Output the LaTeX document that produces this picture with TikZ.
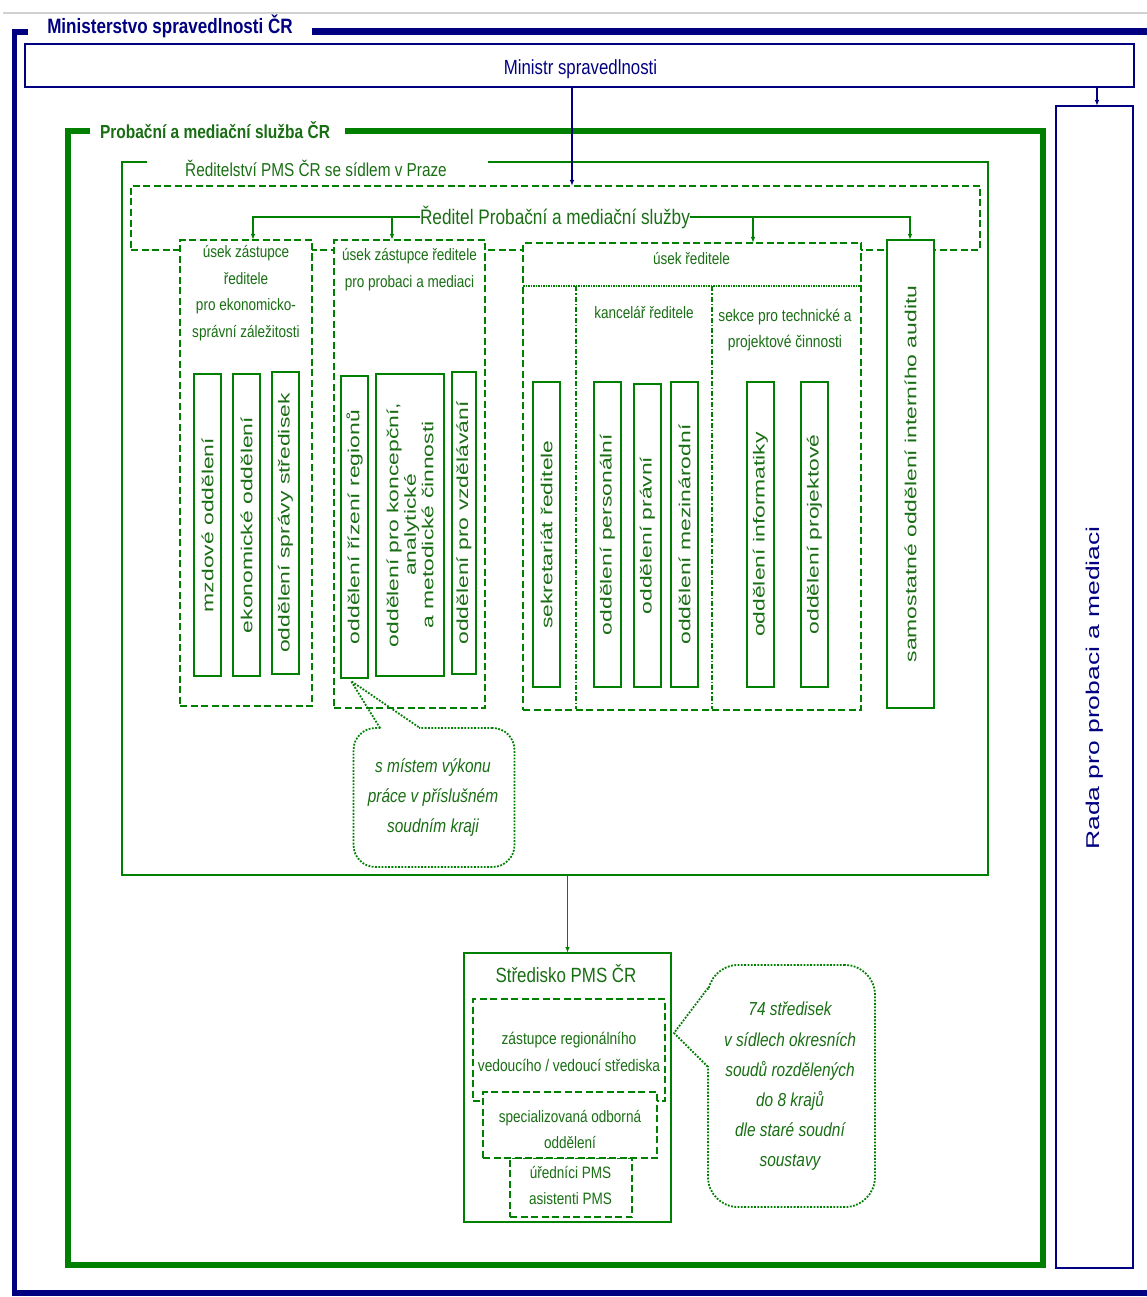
\documentclass[tikz,border=0pt]{standalone}
\usepackage{fontspec}
\setmainfont{Liberation Sans}
\newfontfamily\nfont[FakeStretch=0.82]{Liberation Sans}
\newfontfamily\wfont[FakeStretch=1.43]{Liberation Sans}
\usetikzlibrary{arrows.meta}
\definecolor{pmsgreen}{RGB}{0,128,0}
\definecolor{txtgreen}{RGB}{25,110,20}
\definecolor{msnavy}{RGB}{0,0,128}
\newcommand\fs[2]{\fontsize{#1}{#2}\selectfont}
\newcommand\mkbox[6]{\node[#1,minimum width={#4-#2},minimum height={#5-#3}] (#6) at ({(#2+#4)/2},{(#3+#5)/2}) {};}
\tikzset{
 every node/.style={inner sep=0pt,outer sep=0pt},
 sbox/.style={draw=pmsgreen,line width=1.6pt,fill=white},
 dbox/.style={draw=pmsgreen,line width=1.6pt,dash pattern=on 7pt off 3.5pt,fill=white},
 dboxn/.style={draw=pmsgreen,line width=1.6pt,dash pattern=on 7pt off 3.5pt},
 nbox/.style={draw=msnavy,line width=1.6pt,fill=white},
 callout/.style={draw=pmsgreen,line width=1.8pt,dash pattern=on 1.8pt off 1.5pt,fill=white},
 dotline/.style={draw=pmsgreen,line width=1.8pt,dash pattern=on 1.8pt off 1.5pt},
 garrow/.style={draw=pmsgreen,line width=1.3pt,-{Latex[length=6pt,width=4.5pt]}},
 gline/.style={draw=pmsgreen,line width=1.3pt},
 navyarrow/.style={draw=msnavy,line width=1.3pt,-{Latex[length=6pt,width=4.5pt]}},
 htxt/.style={text=txtgreen,align=center,font=\nfont\fs{16.5}{26.7}},
 vtxt/.style={text=txtgreen,align=center,rotate=90,font=\wfont\fs{16}{17.5}},
 itxt/.style={text=txtgreen,align=center,font=\nfont\itshape\fs{18.8}{30}},
}
\begin{document}
\begin{tikzpicture}[x=1pt,y=-1pt]
\useasboundingbox (0,0) rectangle (1147,1297);
% top gray rule
\draw[black!18,line width=2pt] (3,13) -- (1147,13);
% Ministerstvo frame
\draw[msnavy,line width=5.5pt] (28,32) -- (14.5,32) -- (14.5,1293) -- (1160,1293);
\draw[msnavy,line width=7pt] (312,32) -- (1160,32);
\node[text=msnavy,font=\nfont\bfseries\fs{20.8}{24},anchor=base] (ms) at (170,34) {Ministerstvo spravedlnosti ČR};
% Ministr
\mkbox{nbox}{25}{44}{1134}{87}{ministr}
\node[text=msnavy,font=\nfont\fs{20.5}{24},anchor=base] (ministrt) at (580.5,75) {Ministr spravedlnosti};
% Rada
\mkbox{nbox}{1056}{106}{1133}{1268}{rada}
\node[text=msnavy,rotate=90,font=\wfont\fs{18.5}{22}] (radat) at (1095,688) {Rada pro probaci a mediaci};
% PMS frame
\draw[pmsgreen,line width=5.5pt] (90,131) -- (68,131) -- (68,1265) -- (1043,1265) -- (1043,131) -- (345,131);
\node[text=txtgreen,font=\nfont\bfseries\fs{18.9}{22},anchor=base] (pms) at (215,139) {Probační a mediační služba ČR};
% Reditelstvi frame
\draw[pmsgreen,line width=1.8pt] (147,162) -- (122,162) -- (122,875) -- (988,875) -- (988,162) -- (488,162);
\node[text=txtgreen,font=\nfont\fs{18.7}{22},anchor=base] (redst) at (316,177) {Ředitelství PMS ČR se sídlem v Praze};
% Reditel dashed box
\mkbox{dboxn}{131}{186}{980}{250}{reddash}
\node[text=txtgreen,font=\nfont\fs{21}{24},anchor=base] (reditel) at (555,224.5) {Ředitel Probační a mediační služby};
\coordinate (yl) at (0,217);
\coordinate (xA) at (253,0);
\coordinate (xB) at (392,0);
\coordinate (xC) at (753,0);
\coordinate (xD) at (910,0);
% boxes
\mkbox{dbox}{180}{240}{312}{706}{boxA}
\mkbox{dbox}{334}{240}{485}{708}{boxB}
\mkbox{dbox}{523}{243}{861}{710}{boxC}
\mkbox{sbox}{887}{240}{934}{708}{boxD}
% connectors from Reditel
\draw[garrow] (reditel.west |- yl) -- (xA |- yl) -- (boxA.north -| xA);
\draw[garrow] (xB |- yl) -- (boxB.north -| xB);
\draw[garrow] (reditel.east |- yl) -- (xD |- yl) -- (boxD.north -| xD);
\draw[garrow] (xC |- yl) -- (boxC.north -| xC);
% box A
\node[htxt] (tA) at (246,293) {úsek zástupce\\ředitele\\pro ekonomicko-\\správní záležitosti};
\mkbox{sbox}{194}{374}{221}{676}{mzd}
\mkbox{sbox}{233}{374}{260}{676}{eko}
\mkbox{sbox}{272}{372}{299}{674}{spr}
\node[vtxt] (mzdt) at (mzd) {mzdové oddělení};
\node[vtxt] (ekot) at (eko) {ekonomické oddělení};
\node[vtxt] (sprt) at (spr) {oddělení správy středisek};
% box B
\node[htxt] (tB) at (409.5,269.5) {úsek zástupce ředitele\\pro probaci a mediaci};
\mkbox{sbox}{341}{376}{368}{678}{reg}
\mkbox{sbox}{376}{374}{444}{676}{kon}
\mkbox{sbox}{452}{372}{476}{674}{vzd}
\node[vtxt] (regt) at (reg) {oddělení řízení regionů};
\node[vtxt] (kont) at (kon) {oddělení pro koncepční,\\analytické\\a metodické činnosti};
\node[vtxt] (vzdt) at (vzd) {oddělení pro vzdělávání};
% box C
\node[htxt] (tC) at (691.5,259) {úsek ředitele};
\draw[pmsgreen,line width=1.5pt,dash pattern=on 1.5pt off 1pt] (boxC.west |- 0,286) -- (boxC.east |- 0,286);
\draw[pmsgreen,line width=1.2pt,dash pattern=on 5pt off 2pt on 1.5pt off 2pt] (576,286) -- (576,709);
\draw[pmsgreen,line width=1.2pt,dash pattern=on 5pt off 2pt on 1.5pt off 2pt] (712,286) -- (712,709);
\node[htxt] (kanc) at (644,313) {kancelář ředitele};
\node[htxt,font=\nfont\fs{16.8}{26.5}] (sekce) at (785,330) {sekce pro technické a\\projektové činnosti};
\mkbox{sbox}{533}{382}{560}{687}{sek}
\mkbox{sbox}{594}{382}{621}{687}{per}
\mkbox{sbox}{634}{384}{661}{687}{pra}
\mkbox{sbox}{671}{382}{698}{687}{mez}
\mkbox{sbox}{747}{382}{774}{687}{inf}
\mkbox{sbox}{801}{382}{828}{687}{pro}
\node[vtxt] (sekt) at (sek) {sekretariát ředitele};
\node[vtxt] (pert) at (per) {oddělení personální};
\node[vtxt] (prat) at (pra) {oddělení právní};
\node[vtxt] (mezt) at (mez) {oddělení mezinárodní};
\node[vtxt] (inft) at (inf) {oddělení informatiky};
\node[vtxt] (prot) at (pro) {oddělení projektové};
% box D
\node[vtxt] (audt) at (boxD) {samostatné oddělení interního auditu};
% callout 1
\node[callout,rounded corners=22pt,minimum width=161,minimum height=139] (c1) at (434,797.5) {};
\coordinate (tip1) at (351,681);
\coordinate (c1a) at (380,728);
\coordinate (c1b) at (420,728);
\fill[white] (381.5,724) rectangle (418.5,732);
\draw[dotline] (c1a) -- (tip1) -- (c1b);
\node[itxt] (c1t) at (433,798) {s místem výkonu\\práce v příslušném\\soudním kraji};
% Stredisko
\mkbox{sbox}{464}{953}{671}{1222}{str}
\draw[garrow] (str.north |- 0,875) -- (str.north);
\node[text=txtgreen,font=\nfont\fs{20.6}{24},anchor=base] (strt) at (566,982) {Středisko PMS ČR};
\mkbox{dbox}{473}{999}{665}{1101}{s1}
\mkbox{dbox}{510}{1158}{632}{1217}{s3}
\mkbox{dbox}{483}{1092}{657}{1158}{s2}
\node[htxt,font=\nfont\fs{16.8}{27}] (s1t) at (569,1051.5) {zástupce regionálního\\vedoucího / vedoucí střediska};
\node[htxt,font=\nfont\fs{16.5}{25.5}] (s2t) at (570,1129.5) {specializovaná odborná\\oddělení};
\node[htxt,font=\nfont\fs{16.5}{26}] (s3t) at (570.5,1185) {úředníci PMS\\asistenti PMS};
% callout 2
\node[callout,rounded corners=30pt,minimum width=167,minimum height=242] (c2) at (791.5,1086) {};
\coordinate (tip2) at (674,1033);
\coordinate (c2a) at (708,988);
\coordinate (c2b) at (708,1067);
\fill[white] (704,989.5) rectangle (712,1065.5);
\draw[dotline] (c2a) -- (tip2) -- (c2b);
\node[itxt,font=\nfont\itshape\fs{18.8}{30.2}] (c2t) at (790,1086.5) {74 středisek\\v sídlech okresních\\soudů rozdělených\\do 8 krajů\\dle staré soudní\\soustavy};
% navy arrows
\coordinate (xm) at (572,0);
\coordinate (xr) at (1097,0);
\draw[navyarrow] (ministr.south -| xm) -- (reddash.north -| xm);
\draw[navyarrow] (ministr.south -| xr) -- (rada.north -| xr);
\end{tikzpicture}
\end{document}
